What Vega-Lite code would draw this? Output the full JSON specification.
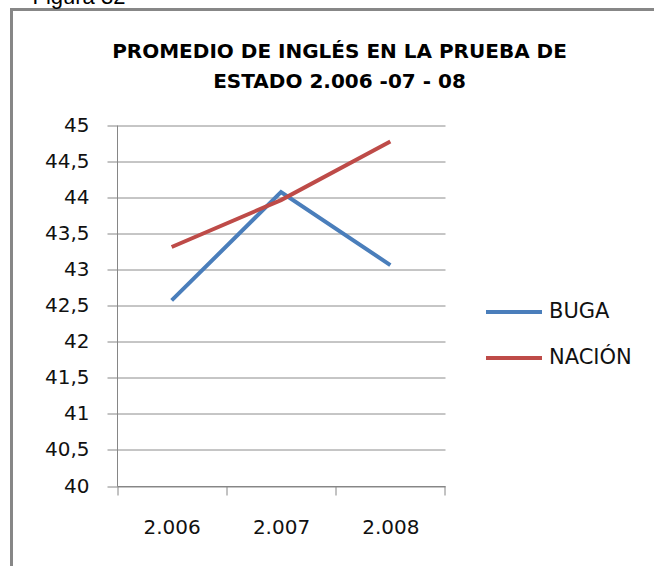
{
  "$schema": "https://vega.github.io/schema/vega-lite/v6.json",
  "width": 660,
  "height": 580,
  "autosize": "none",
  "padding": {"left": 11.5, "top": 9.5, "right": 0, "bottom": 0},
  "background": "white",
  "title": {
    "text": ["PROMEDIO DE INGLÉS EN LA PRUEBA DE", "ESTADO 2.006 -07 - 08"],
    "font": "DejaVu Sans",
    "fontSize": 20,
    "fontWeight": "bold",
    "color": "#000000",
    "lineHeight": 30,
    "anchor": "middle",
    "frame": "group",
    "dx": -2,
    "offset": -107
  },
  "data": {
    "values": [
      {"year": "2.006", "serie": "BUGA", "value": 42.57},
      {"year": "2.007", "serie": "BUGA", "value": 44.07},
      {"year": "2.008", "serie": "BUGA", "value": 43.06},
      {"year": "2.006", "serie": "NACIÓN", "value": 43.31},
      {"year": "2.007", "serie": "NACIÓN", "value": 43.96},
      {"year": "2.008", "serie": "NACIÓN", "value": 44.77}
    ]
  },
  "mark": {"type": "line", "strokeWidth": 4},
  "encoding": {
    "x": {
      "field": "year",
      "type": "ordinal",
      "sort": null,
      "scale": {"type": "band", "paddingInner": 0, "paddingOuter": 0, "range": [105.5, 433.5]},
      "axis": {
        "title": null,
        "offset": -103.5,
        "labelAngle": 0,
        "labelFont": "DejaVu Sans",
        "labelFontSize": 20,
        "labelColor": "#111111",
        "labelPadding": 22,
        "tickBand": "extent",
        "tickSize": 9,
        "tickColor": "#868686",
        "domainColor": "#868686",
        "grid": false
      }
    },
    "y": {
      "field": "value",
      "type": "quantitative",
      "scale": {"domain": [40, 45], "nice": false, "zero": false, "range": [476.5, 115.5]},
      "axis": {
        "title": "Figura 32",
        "titleAngle": 0,
        "titleX": -85,
        "titleY": -6.5,
        "titleAlign": "left",
        "titleBaseline": "alphabetic",
        "titleFont": "Liberation Sans",
        "titleFontSize": 22,
        "titleFontWeight": "normal",
        "titleColor": "#000000",
        "offset": -105.5,
        "values": [40, 40.5, 41, 41.5, 42, 42.5, 43, 43.5, 44, 44.5, 45],
        "labelExpr": "replace(format(datum.value, '~g'), '.', ',')",
        "labelFont": "DejaVu Sans",
        "labelFontSize": 20,
        "labelColor": "#111111",
        "labelPadding": 18,
        "tickSize": 10,
        "tickColor": "#868686",
        "domainColor": "#868686",
        "gridColor": "#8c8c8c",
        "gridOpacity": 1
      }
    },
    "color": {
      "field": "serie",
      "type": "nominal",
      "scale": {"domain": ["BUGA", "NACIÓN"], "range": ["#4a7ebb", "#be4b48"]},
      "legend": {
        "title": null,
        "orient": "none",
        "legendX": 472.5,
        "legendY": 272.5,
        "symbolType": "stroke",
        "symbolSize": 3136,
        "symbolStrokeWidth": 4,
        "labelFont": "DejaVu Sans",
        "labelFontSize": 21,
        "labelColor": "#111111",
        "labelOffset": 5,
        "rowPadding": 6
      }
    }
  },
  "config": {"view": {"stroke": "#878787", "strokeWidth": 3}}
}
